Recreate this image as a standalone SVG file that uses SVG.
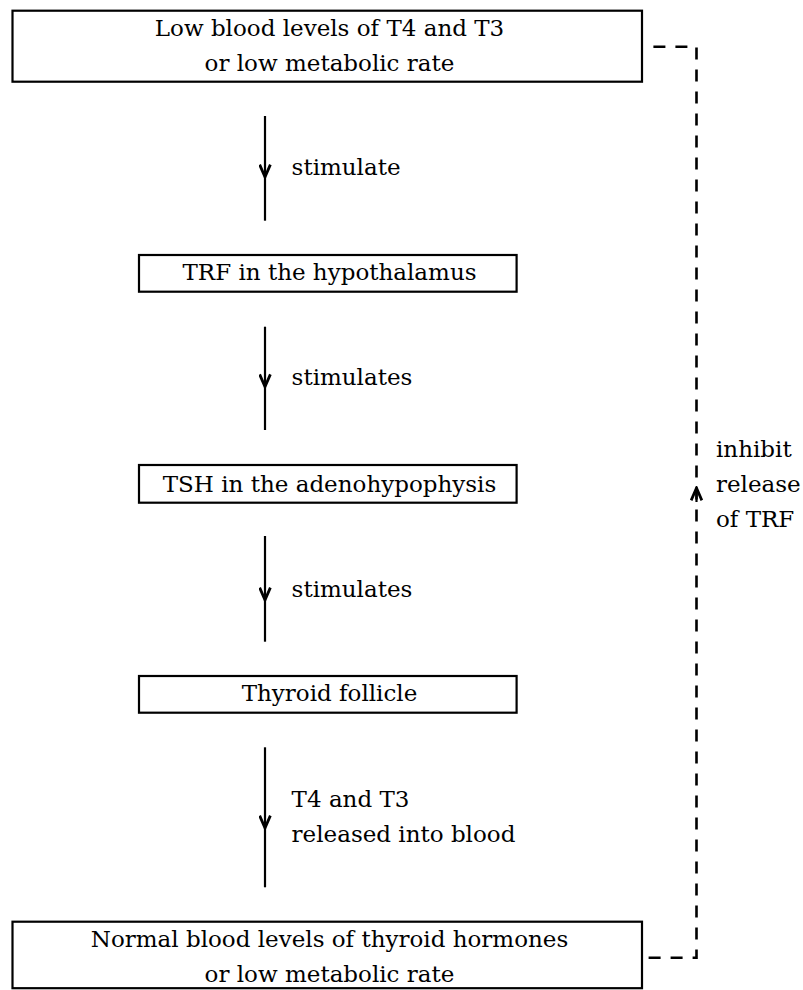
<svg xmlns="http://www.w3.org/2000/svg" width="803" height="990" viewBox="0 0 803 990">
<style>
  .box { fill: #ffffff; stroke: #000000; stroke-width: 2.2; }
  .t { font-family: "DejaVu Serif", "Liberation Serif", serif; font-size: 23px; fill: #000000; }
  .c { text-anchor: middle; }
  .flow { fill: none; stroke: #000000; stroke-width: 2.2; }
  .dash { fill: none; stroke: #000000; stroke-width: 2.6; stroke-dasharray: 12 10; }
</style>
<defs>
  <marker id="chev" viewBox="0 0 14 12" refX="12.5" refY="6" markerWidth="15" markerHeight="13" markerUnits="userSpaceOnUse" orient="auto">
    <path d="M1 1 L12.5 6 L1 11" fill="none" stroke="#000000" stroke-width="2.6" stroke-linejoin="miter"/>
  </marker>
</defs>
<rect width="803" height="990" fill="#ffffff"/>

<g id="connectors">
  <path class="flow" d="M265 116 L265 177 L265 220.7" marker-mid="url(#chev)"/>
  <path class="flow" d="M265 326.7 L265 386.7 L265 430" marker-mid="url(#chev)"/>
  <path class="flow" d="M265 536 L265 600 L265 641.7" marker-mid="url(#chev)"/>
  <path class="flow" d="M265 747.3 L265 828 L265 887.3" marker-mid="url(#chev)"/>
  <path class="dash" d="M648.6 957.7 H696.5 V46.7 H648.6"/>
  <path class="flow" d="M696.5 502 L696.5 488" marker-end="url(#chev)"/>
  <text class="t" x="291.6" y="175">stimulate</text>
  <text class="t" x="291.6" y="385">stimulates</text>
  <text class="t" x="291.6" y="596.7">stimulates</text>
  <text class="t" x="291.6" y="806.7">T4 and T3</text>
  <text class="t" x="291.6" y="841.7">released into blood</text>
  <text class="t" x="716" y="456.7">inhibit</text>
  <text class="t" x="716" y="491.7">release</text>
  <text class="t" x="716" y="526.7">of TRF</text>
</g>

<g id="node-low">
  <rect class="box" x="12.5" y="10.7" width="629.5" height="71"/>
  <text class="t c" x="329.5" y="36">Low blood levels of T4 and T3</text>
  <text class="t c" x="329.5" y="71">or low metabolic rate</text>
</g>

<g id="node-trf">
  <rect class="box" x="139" y="255" width="377.6" height="36.7"/>
  <text class="t c" x="329.5" y="280">TRF in the hypothalamus</text>
</g>

<g id="node-tsh">
  <rect class="box" x="139" y="465" width="377.6" height="37.7"/>
  <text class="t c" x="329.5" y="492">TSH in the adenohypophysis</text>
</g>

<g id="node-thyroid">
  <rect class="box" x="139" y="676" width="377.6" height="36.7"/>
  <text class="t c" x="329.5" y="700.7">Thyroid follicle</text>
</g>

<g id="node-normal">
  <rect class="box" x="12.5" y="921.7" width="629.5" height="66.5"/>
  <text class="t c" x="329.5" y="946.7">Normal blood levels of thyroid hormones</text>
  <text class="t c" x="329.5" y="981.7">or low metabolic rate</text>
</g>
</svg>
